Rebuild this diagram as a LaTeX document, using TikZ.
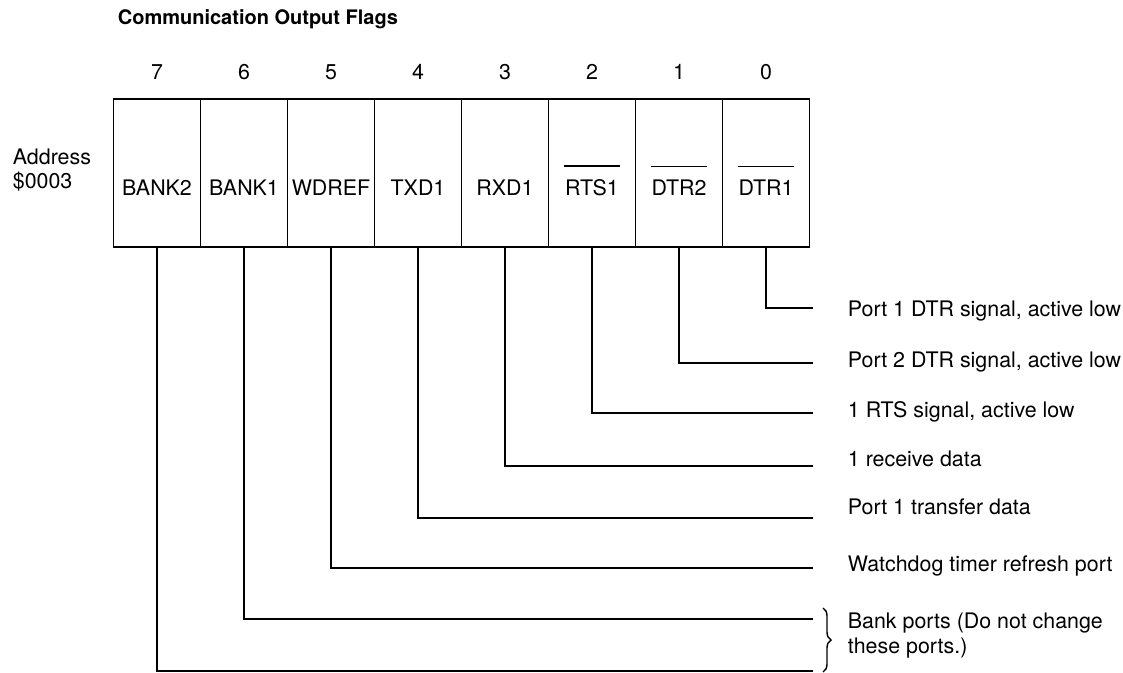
\documentclass[tikz,border=0pt]{standalone}
\usepackage{fontspec}
\setmainfont{TeX Gyre Heros}
\usetikzlibrary{decorations.pathreplacing}

\begin{document}
\begin{tikzpicture}[x=0.5pt,y=-0.5pt,line width=0.9pt,
    every node/.style={font=\fontsize{10.7}{12}\selectfont},
    cell/.style={draw,minimum width=43.5pt,minimum height=74pt,inner sep=0pt},
    bitname/.style={inner sep=0pt},
    flagtext/.style={anchor=west,inner sep=0pt,align=left}]
            \useasboundingbox (0,0) rectangle (1123,673);
            % heading and address
            \node[anchor=west,inner sep=0pt,font=\bfseries\fontsize{10}{12}\selectfont] (title) at (117,19) {Communication Output Flags};
            \node[flagtext] (addr) at (12,170) {Address\\\$0003};
            % bit numbers
            \node (n7) at (157,72) {7};
            \node (n6) at (244,72) {6};
            \node (n5) at (331,72) {5};
            \node (n4) at (418,72) {4};
            \node (n3) at (505,72) {3};
            \node (n2) at (592,72) {2};
            \node (n1) at (679,72) {1};
            \node (n0) at (766,72) {0};
            % register cells
            \node[cell] (c7) at (157,173) {};
            \node[cell] (c6) at (244,173) {};
            \node[cell] (c5) at (331,173) {};
            \node[cell] (c4) at (418,173) {};
            \node[cell] (c3) at (505,173) {};
            \node[cell] (c2) at (592,173) {};
            \node[cell] (c1) at (679,173) {};
            \node[cell] (c0) at (766,173) {};
            \node[bitname] (b7) at (157,188) {BANK2};
            \node[bitname] (b6) at (244,188) {BANK1};
            \node[bitname] (b5) at (331,188) {WDREF};
            \node[bitname] (b4) at (418,188) {TXD1};
            \node[bitname] (b3) at (505,188) {RXD1};
            \node[bitname] (b2) at (592,188) {RTS1};
            \node[bitname] (b1) at (679,188) {DTR2};
            \node[bitname] (b0) at (766,188) {DTR1};
            \draw[line width=0.6pt] ([yshift=6.5pt]b2.north west) -- ([yshift=6.5pt]b2.north east);
            \draw[line width=0.6pt] ([yshift=6.5pt]b1.north west) -- ([yshift=6.5pt]b1.north east);
            \draw[line width=0.6pt] ([yshift=6.5pt]b0.north west) -- ([yshift=6.5pt]b0.north east);
            % line ends and descriptions
            \coordinate (e0) at (813,308);
            \coordinate (e1) at (813,363);
            \coordinate (e2) at (813,413);
            \coordinate (e3) at (813,466);
            \coordinate (e4) at (813,518);
            \coordinate (e5) at (813,568);
            \coordinate (e6) at (813,619);
            \coordinate (e7) at (813,671);
            \node[flagtext] (l0) at (847,311) {Port 1 DTR signal, active low};
            \node[flagtext] (l1) at (847,362) {Port 2 DTR signal, active low};
            \node[flagtext] (l2) at (847,412) {1 RTS signal, active low};
            \node[flagtext] (l3) at (847,459) {1 receive data};
            \node[flagtext] (l4) at (847,507) {Port 1 transfer data};
            \node[flagtext] (l5) at (847,566) {Watchdog timer refresh port};
            \node[flagtext,font=\fontsize{10.7}{12.5}\selectfont] (l67) at (847,636) {Bank ports (Do not change\\these ports.)};
            \draw (c0.south) |- (e0);
            \draw (c1.south) |- (e1);
            \draw (c2.south) |- (e2);
            \draw (c3.south) |- (e3);
            \draw (c4.south) |- (e4);
            \draw (c5.south) |- (e5);
            \draw (c6.south) |- (e6);
            \draw (c7.south) |- (e7);
            \coordinate (br1) at (823,608);
            \coordinate (br2) at (823,672);
            \draw[line width=0.7pt,decorate,decoration={brace,amplitude=4pt}] (br1) -- (br2);
        \end{tikzpicture}
\end{document}
